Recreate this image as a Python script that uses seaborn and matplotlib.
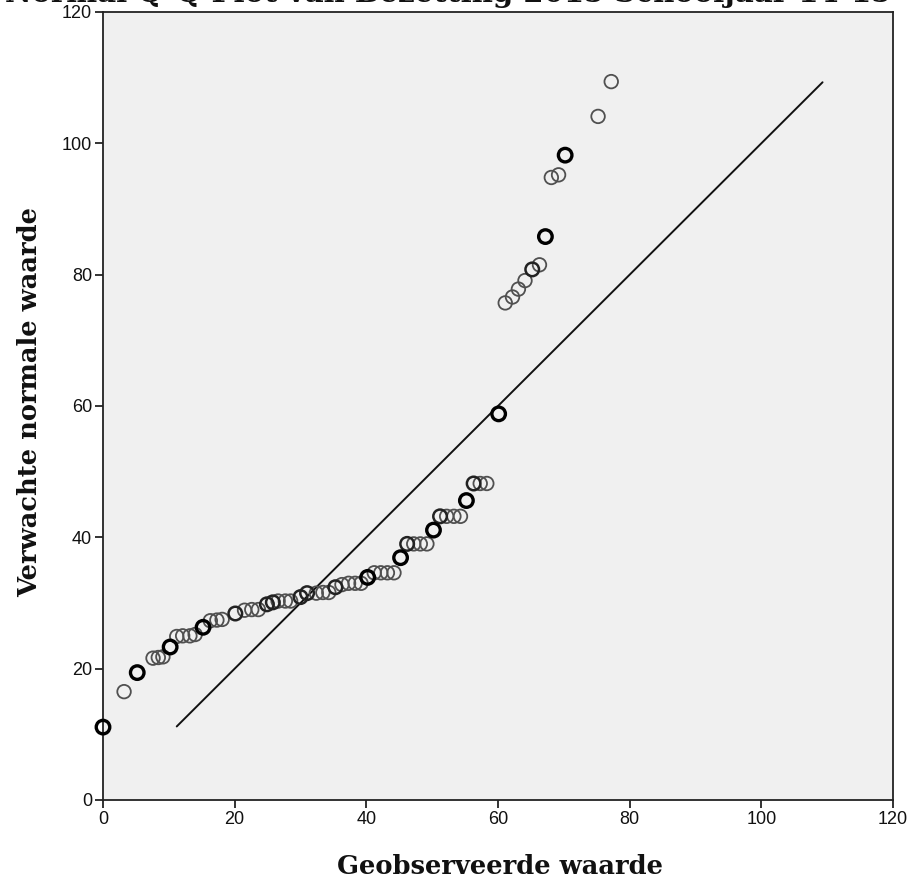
import matplotlib
matplotlib.use("Agg")
import matplotlib.pyplot as plt
import seaborn as sns
import pandas as pd

# Observed values and their expected normal quantiles
observed = [0.0, 3.2, 5.2, 7.6, 8.4, 9.1, 10.2, 11.2, 12.1, 13.2, 14.0, 15.2,
            16.3, 17.3, 18.1, 20.1, 21.5, 22.6, 23.6, 24.9, 25.8, 26.6, 27.7,
            28.5, 30.0, 31.0, 32.4, 33.4, 34.3, 35.3, 36.3, 37.3, 38.3, 39.2,
            40.2, 41.2, 42.2, 43.2, 44.2, 45.2, 46.2, 47.2, 48.2, 49.2, 50.2,
            51.2, 52.2, 53.3, 54.3, 55.2, 56.3, 57.3, 58.3, 60.1, 61.1, 62.2,
            63.1, 64.1, 65.2, 66.3, 67.2, 68.1, 69.2, 70.2, 75.2, 77.2]
expected = [11.1, 16.5, 19.4, 21.6, 21.7, 21.8, 23.3, 24.9, 25.0, 25.0, 25.2,
            26.3, 27.3, 27.4, 27.5, 28.4, 28.9, 29.0, 29.0, 29.8, 30.1, 30.3,
            30.3, 30.3, 30.9, 31.5, 31.5, 31.6, 31.6, 32.4, 32.8, 33.0, 33.0,
            33.0, 33.9, 34.6, 34.6, 34.6, 34.6, 36.9, 39.0, 39.0, 39.0, 39.0,
            41.1, 43.2, 43.2, 43.2, 43.2, 45.6, 48.2, 48.2, 48.2, 58.8, 75.7,
            76.6, 77.8, 79.1, 80.8, 81.5, 85.8, 94.8, 95.2, 98.2, 104.1, 109.4]
# number of coinciding cases per point
cases = [3, 1, 3, 1, 1, 1, 3, 1, 1, 1, 1, 3, 1, 1, 1, 2, 1, 1, 1, 2, 2, 1, 1,
         1, 2, 2, 1, 1, 1, 2, 1, 1, 1, 1, 3, 1, 1, 1, 1, 3, 2, 1, 1, 1, 3, 2,
         1, 1, 1, 3, 2, 1, 1, 3, 1, 1, 1, 1, 2, 1, 3, 1, 1, 3, 1, 1]

# reference line
ref_x = [11.2, 109.3]
ref_y = [11.2, 109.3]

x_ticks = [0, 20, 40, 60, 80, 100, 120]
y_ticks = [0, 20, 40, 60, 80, 100, 120]

title = "Normal Q-Q Plot van Bezetting 2015 Schooljaar 14-15"
x_label = "Geobserveerde waarde"
y_label = "Verwachte normale waarde"

sns.set_theme(style="white")
plt.rcParams["font.family"] = ["Liberation Sans Narrow", "Liberation Sans", "DejaVu Sans"]

df = pd.DataFrame({"obs": observed, "exp": expected, "n": cases})

fig = plt.figure(figsize=(9.14, 8.86), dpi=100)
ax = fig.add_axes([103 / 914, 1 - 800 / 886, 790 / 914, 788 / 886])
ax.set_facecolor("#f0f0f0")

sns.lineplot(x=ref_x, y=ref_y, ax=ax, color="#111111", linewidth=1.4)

edge_for = {1: "#505050", 2: "#222222", 3: "#000000"}
lw_for = {1: 1.3, 2: 1.8, 3: 2.4}
for n, sub in df.groupby("n"):
    sns.scatterplot(data=sub, x="obs", y="exp", ax=ax, s=95, marker="o",
                    facecolors="none", edgecolor=edge_for[n],
                    linewidth=lw_for[n], legend=False, clip_on=False, zorder=3)

ax.set_xlim(0, 120)
ax.set_ylim(0, 120)
ax.set_xticks(x_ticks)
ax.set_yticks(y_ticks)
ax.tick_params(axis="both", direction="out", length=6, width=1.2,
               labelsize=13, colors="#111111", bottom=True, left=True, pad=2)
for side in ["left", "bottom", "top", "right"]:
    ax.spines[side].set_visible(True)
    ax.spines[side].set_color("#222222")
    ax.spines[side].set_linewidth(1.3)

serif = {"family": ["DejaVu Serif"], "weight": "bold", "size": 18.5}
ax.set_xlabel(x_label, fontdict=serif, color="#111111", va="center")
ax.set_ylabel(y_label, fontdict=serif, color="#111111", va="center")
ax.xaxis.set_label_coords(397 / 790, -66 / 788)
ax.yaxis.set_label_coords(-73 / 790, 398 / 788)

fig.text(0.49, 1 - 2 / 886, title, ha="center", va="baseline",
         family=["DejaVu Serif"], weight="bold", size=21, color="#111111")

fig.savefig("out.png", dpi=100, facecolor="white")
